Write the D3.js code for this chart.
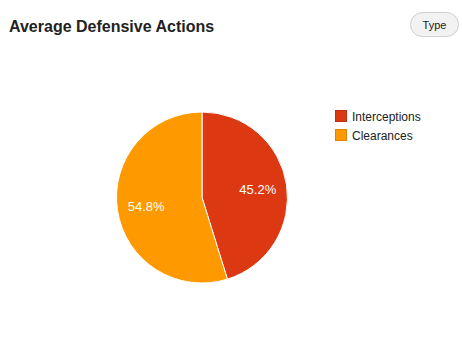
<!DOCTYPE html>
<html>
<head>
<meta charset="utf-8">
<script src="https://cdn.jsdelivr.net/npm/d3@7"></script>
<style>
  html, body { margin: 0; padding: 0; background: #fff; }
  svg { display: block; font-family: "Liberation Sans", Arial, sans-serif; }
</style>
</head>
<body>
<svg id="chart" width="462" height="343"></svg>
<script>
// Share of defensive actions by type
const categories = ["Interceptions", "Clearances"];
const values = [45.2, 54.8];
const colors = ["#DC3912", "#FF9900"];

const svg = d3.select("#chart");

// Title
svg.append("text")
  .attr("x", 9).attr("y", 32)
  .attr("font-size", 16).attr("font-weight", "bold")
  .attr("fill", "#222")
  .text("Average Defensive Actions");

// "Type" pill button
const btn = svg.append("g").attr("transform", "translate(410,12)");
btn.append("rect")
  .attr("x", 0.5).attr("y", 0.5).attr("width", 48).attr("height", 24)
  .attr("rx", 12).attr("ry", 12)
  .attr("fill", "#f2f2f2").attr("stroke", "#cfcfcf");
btn.append("text")
  .attr("x", 24.5).attr("y", 17)
  .attr("text-anchor", "middle")
  .attr("font-size", 11).attr("fill", "#222")
  .text("Type");

// Pie
const cx = 202, cy = 197.5, r = 85.5;
const color = d3.scaleOrdinal().domain(categories).range(colors);
const pie = d3.pie().sort(null).value(d => d.value);
const arcs = pie(categories.map((c, i) => ({ name: c, value: values[i] })));
const arc = d3.arc().innerRadius(0).outerRadius(r);
const labelArc = d3.arc().innerRadius(r * 0.66).outerRadius(r * 0.66);

const g = svg.append("g").attr("transform", `translate(${cx},${cy})`);
g.selectAll("path")
  .data(arcs)
  .join("path")
  .attr("d", arc)
  .attr("fill", d => color(d.data.name))
  .attr("stroke", "#fff")
  .attr("stroke-width", 1);

g.selectAll("text")
  .data(arcs)
  .join("text")
  .attr("transform", d => `translate(${labelArc.centroid(d)})`)
  .attr("text-anchor", "middle")
  .attr("dy", "0.35em")
  .attr("font-size", 13)
  .attr("fill", "#fff")
  .text(d => d3.format(".1f")(d.data.value) + "%");

// Legend
const legend = svg.append("g").attr("transform", "translate(335,110)");
const item = legend.selectAll("g")
  .data(categories)
  .join("g")
  .attr("transform", (d, i) => `translate(0,${i * 19})`);
item.append("rect")
  .attr("x", 0.5).attr("y", 0.5).attr("width", 11).attr("height", 11)
  .attr("fill", d => color(d))
  .attr("stroke", d => d3.color(color(d)).darker(0.4));
item.append("text")
  .attr("x", 17).attr("y", 10.5)
  .attr("font-size", 12).attr("fill", "#222")
  .text(d => d);
</script>
</body>
</html>
